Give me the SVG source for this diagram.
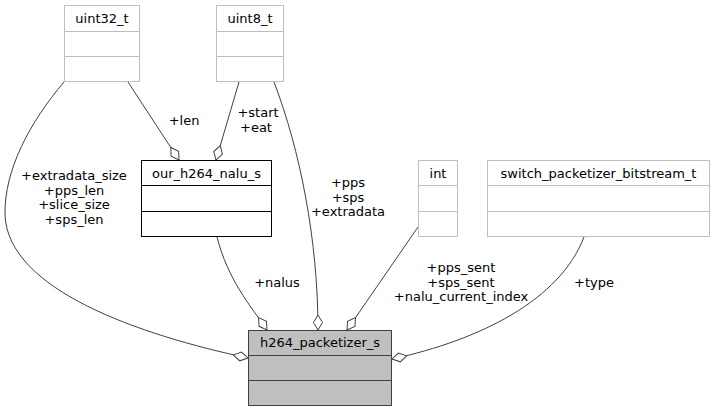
<svg xmlns="http://www.w3.org/2000/svg" width="714" height="412" viewBox="0 0 714 412">
<style>
text{font-family:"DejaVu Sans","Liberation Sans",sans-serif;font-size:13px;fill:#000;text-anchor:middle}
.ext rect,.ext line{fill:#fff;stroke:#bfbfbf;stroke-width:1}
.cls rect,.cls line{fill:#fff;stroke:#000;stroke-width:1}
.main rect,.main line{fill:#bfbfbf;stroke:#404040;stroke-width:1}
.edge{fill:none;stroke:#404040;stroke-width:1;marker-end:url(#odiamond)}
</style>
<defs>
<marker id="odiamond" markerUnits="userSpaceOnUse" markerWidth="18" markerHeight="12" refX="16" refY="5.5" orient="auto" viewBox="0 0 18 12" overflow="visible">
<path d="M1,5.5 L8.5,1 L16,5.5 L8.5,10 Z" fill="#fff" stroke="#404040" stroke-width="1"/>
</marker>
</defs>
<rect width="714" height="412" fill="#fff"/>
<g id="connectors">
<path class="edge" d="M64,82 C30,122 4,170 5,215 C8,290 140,335 248,358"/>
<path class="edge" d="M128,82 L179,160"/>
<path class="edge" d="M239,82 L216,160"/>
<path class="edge" d="M274,82 C300,150 318,240 318,330"/>
<path class="edge" d="M217,237 C228,280 250,305 267,330"/>
<path class="edge" d="M418,227 L347,330"/>
<path class="edge" d="M584,237 C560,300 480,340 392,359"/>
<text x="74" y="180">+extradata_size</text>
<text x="74" y="194.5">+pps_len</text>
<text x="74" y="209">+slice_size</text>
<text x="74" y="223.5">+sps_len</text>
<text x="184" y="124.5">+len</text>
<text x="258" y="117">+start</text>
<text x="256" y="131.5">+eat</text>
<text x="348" y="187">+pps</text>
<text x="348" y="201.5">+sps</text>
<text x="348" y="216">+extradata</text>
<text x="277" y="286.5">+nalus</text>
<text x="461" y="272">+pps_sent</text>
<text x="461" y="286.5">+sps_sent</text>
<text x="461" y="301">+nalu_current_index</text>
<text x="594" y="286.5">+type</text>
</g>
<g id="uint32_t" class="ext">
<rect x="64.5" y="5.5" width="75" height="76"/>
<line x1="64.5" y1="31.5" x2="139.5" y2="31.5"/>
<line x1="64.5" y1="56.5" x2="139.5" y2="56.5"/>
<text x="102" y="22.5">uint32_t</text>
</g>
<g id="uint8_t" class="ext">
<rect x="216.5" y="5.5" width="67" height="76"/>
<line x1="216.5" y1="31.5" x2="283.5" y2="31.5"/>
<line x1="216.5" y1="56.5" x2="283.5" y2="56.5"/>
<text x="250" y="22.5">uint8_t</text>
</g>
<g id="our_h264_nalu_s" class="cls">
<rect x="141.5" y="160.5" width="130" height="76"/>
<line x1="141.5" y1="185.5" x2="271.5" y2="185.5"/>
<line x1="141.5" y1="211.5" x2="271.5" y2="211.5"/>
<text x="206.5" y="177.5">our_h264_nalu_s</text>
</g>
<g id="int" class="ext">
<rect x="418.5" y="160.5" width="39" height="76"/>
<line x1="418.5" y1="185.5" x2="457.5" y2="185.5"/>
<line x1="418.5" y1="211.5" x2="457.5" y2="211.5"/>
<text x="438" y="177.5">int</text>
</g>
<g id="switch_packetizer_bitstream_t" class="ext">
<rect x="487.5" y="160.5" width="222" height="76"/>
<line x1="487.5" y1="185.5" x2="709.5" y2="185.5"/>
<line x1="487.5" y1="211.5" x2="709.5" y2="211.5"/>
<text x="598.5" y="177.5">switch_packetizer_bitstream_t</text>
</g>
<g id="h264_packetizer_s" class="main">
<rect x="248.5" y="330.5" width="143" height="75"/>
<line x1="248.5" y1="355.5" x2="391.5" y2="355.5"/>
<line x1="248.5" y1="380.5" x2="391.5" y2="380.5"/>
<text x="320" y="347">h264_packetizer_s</text>
</g>
</svg>
